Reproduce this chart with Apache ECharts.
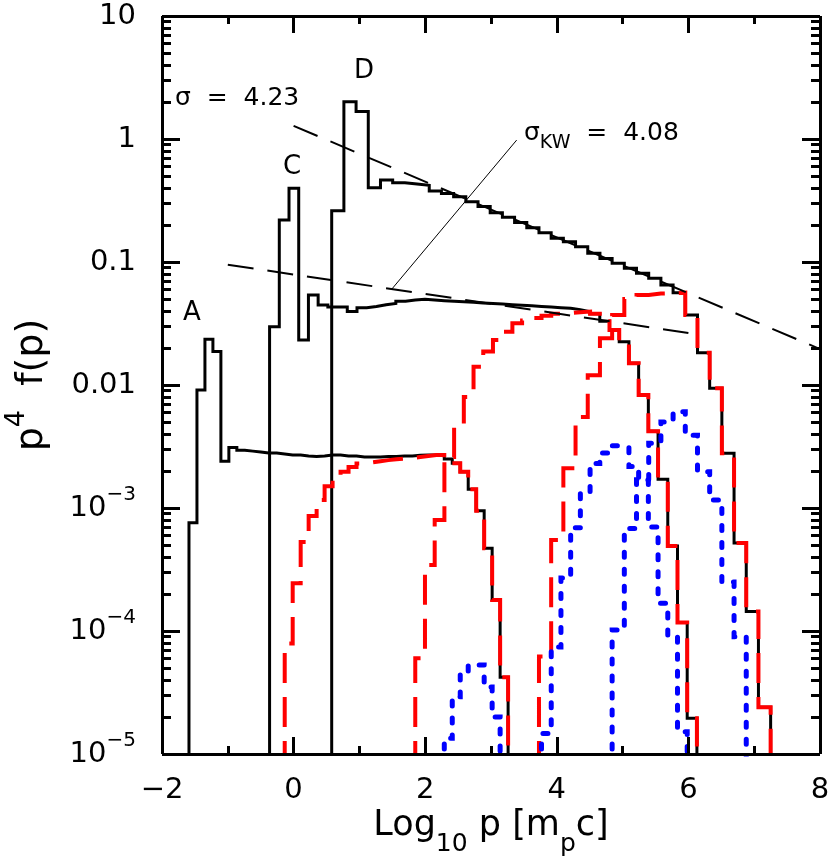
<!DOCTYPE html>
<html><head><meta charset="utf-8">
<script src="https://cdn.jsdelivr.net/npm/echarts@6/dist/echarts.min.js"></script>
<style>html,body{margin:0;padding:0;background:#fff}#c{width:830px;height:866px}</style>
</head><body><div id="c"></div>
<script>
// ---- histogram bin grids (start edge, bin width in log10 p) ----
const gridA = {start: -1.59, width: 0.12125};
const gridC = {start: -0.365, width: 0.1476};
const gridD = {start: 0.579, width: 0.1853};

// ---- black spectra (p^4 f(p) per bin) ----
const blackA = [7.6e-4, 0.0091, 0.0235, 0.0187, 0.0024, 0.0031, 0.00295, 0.0029, 0.00285, 0.0028,
  0.0028, 0.00275, 0.0027, 0.0027, 0.00265, 0.00262, 0.00265, 0.0027, 0.0027, 0.00265,
  0.00265, 0.0026, 0.0026, 0.0026, 0.00262, 0.00262, 0.00265, 0.00265, 0.00268, 0.0027,
  0.0027, 0.0027, 0.0025, 0.00231, 0.00197, 0.00142, 9.5e-4, 4.7e-4, 1.79e-4, 4.2e-5];
const blackC = [0.0298, 0.22, 0.397, 0.0232, 0.054, 0.0447, 0.043, 0.043, 0.0395, 0.0425,
  0.0435, 0.045, 0.046, 0.048, 0.049, 0.0497, 0.049, 0.0485, 0.048, 0.0475,
  0.047, 0.0465, 0.046, 0.0455, 0.045, 0.0445, 0.044, 0.0435, 0.043, 0.0425,
  0.042, 0.041, 0.0395, 0.038, 0.033, 0.028, 0.0225, 0.015, 0.0083, 0.0042,
  0.00171, 4.9e-4, 1.17e-4, 1.95e-5];
const blackD = [0.261, 2.01, 1.67, 0.402, 0.464, 0.441, 0.43, 0.42, 0.378, 0.36,
  0.339, 0.309, 0.282, 0.252, 0.231, 0.209, 0.19, 0.173, 0.156, 0.146,
  0.133, 0.118, 0.107, 0.0977, 0.089, 0.081, 0.0737, 0.065, 0.0563, 0.037,
  0.0183, 0.0094, 0.00279, 5.2e-4, 1.44e-4, 2.4e-5];

// ---- red dashed spectra (first bin index on their grid, values) ----
const red1First = 12;
const red1 = [7.9e-5, 2.45e-4, 5.3e-4, 8.6e-4, 1.16e-3, 1.5e-3, 1.74e-3, 1.97e-3, 2.15e-3, 2.3e-3,
  2.35e-3, 2.4e-3, 2.45e-3, 2.49e-3, 2.52e-3, 2.55e-3, 2.6e-3, 2.65e-3, 2.7e-3, 2.7e-3,
  2.5e-3, 2.31e-3, 1.97e-3, 1.42e-3, 9.5e-4, 4.7e-4, 1.79e-4, 4.2e-5];
const red2First = 15;
const red2 = [6.0e-5, 3.44e-4, 7.98e-4, 2.6e-3, 4.58e-3, 8.0e-3, 0.0141, 0.0187, 0.0232, 0.0271,
  0.0317, 0.0335, 0.035, 0.0365, 0.038, 0.0385, 0.039, 0.0395, 0.038, 0.033,
  0.028, 0.0225, 0.015, 0.0083, 0.0042, 0.00171, 4.9e-4, 1.17e-4, 1.95e-5];
const red3First = 17;
const red3 = [6.2e-5, 5.5e-4, 2.1e-3, 5.5e-3, 0.012, 0.024, 0.037, 0.05, 0.054, 0.0555,
  0.0557, 0.0563, 0.037, 0.0183, 0.0094, 0.00279, 5.2e-4, 1.44e-4, 2.4e-5];

// ---- blue dotted spectra ----
const blue1First = 32;
const blue1 = [1.34e-5, 2.92e-5, 4.4e-5, 5.3e-5, 5.3e-5, 3.5e-5, 2.0e-5];
const blue2First = 28;
const blue2 = [1.47e-5, 7.4e-5, 2.7e-4, 6.9e-4, 1.36e-3, 2.3e-3, 2.8e-3, 3.2e-3, 3.1e-3, 2.17e-3,
  1.69e-3, 7.0e-4, 1.68e-4, 9.0e-5, 1.52e-5];
const blue3First = 23;
const blue3 = [1.02e-4, 6.8e-4, 1.7e-3, 3.36e-3, 5.0e-3, 6.07e-3, 3.9e-3, 1.97e-3, 1.16e-3, 2.5e-4, 9.0e-5];

// ---- power-law fits and pointer ----
const fit423 = [[0.0, 1.28], [8.0, 0.0196]];
const fit408 = [[-1.0, 0.095], [6.0, 0.0265]];
const pointer = [[1.49, 0.060], [3.39, 0.98]];

// ---- axis ranges ----
const xMin = -2, xMax = 8, xStep = 2, xMinorStep = 1;
const yMin = 1e-5, yMax = 10;

const FLOOR = 1e-8;
function hist(grid, vals, first) {
  const e = i => grid.start + (first + i) * grid.width;
  const pts = [[e(0), FLOOR]];
  vals.forEach((v, i) => pts.push([e(i), v]));
  pts.push([e(vals.length), FLOOR]);
  return pts;
}

const FONT = 'DejaVu Sans';
const chart = echarts.init(document.getElementById('c'));

function stepSeries(data, color, width, type, cap) {
  return {type: 'line', data, step: 'end', symbol: 'none', silent: true,
    lineStyle: {color, width, type, cap: cap || 'butt', join: 'miter'}, clip: true};
}
function plainLine(data, width, type) {
  return {type: 'line', data, symbol: 'none', silent: true,
    lineStyle: {color: '#000', width, type}, clip: true};
}

const yLabel = v => {
  const ex = Math.round(Math.log10(v));
  if (ex >= -2) return String(+v.toPrecision(3));
  return '{m|10}{s|\u2212' + (-ex) + '}';
};

chart.setOption({
  animation: false,
  grid: {left: 162, right: 10, top: 16, bottom: 112, containLabel: false, outerBoundsMode: 'none'},
  xAxis: {
    type: 'value', min: xMin, max: xMax, interval: xStep,
    axisLine: {show: false}, axisTick: {show: false}, minorTick: {show: false},
    splitLine: {show: false},
    axisLabel: {show: true, margin: 22, color: '#000', fontFamily: FONT, fontSize: 29,
      formatter: v => String(v).replace('-', '\u2212')},
    name: 'Log{sub|10} p [m{sub|p}c]', nameLocation: 'middle', nameGap: 40, nameMoveOverlap: false,
    nameTextStyle: {color: '#000', fontFamily: FONT, fontSize: 35, lineHeight: 36,
      rich: {sub: {fontFamily: FONT, fontSize: 25, lineHeight: 63, verticalAlign: 'bottom', padding: [38, 0, 0, 0]}}}
  },
  yAxis: {
    type: 'log', logBase: 10, min: yMin, max: yMax,
    axisLine: {show: false}, axisTick: {show: false}, minorTick: {show: false},
    splitLine: {show: false}, minorSplitLine: {show: false},
    axisLabel: {show: true, margin: 26, color: '#000', fontFamily: FONT, fontSize: 29, formatter: yLabel,
      rich: {m: {fontFamily: FONT, fontSize: 29, lineHeight: 29, verticalAlign: 'middle'},
             s: {fontFamily: FONT, fontSize: 20, lineHeight: 46, verticalAlign: 'top', padding: [0, 0, 26, 0]}}},
    name: 'p{sup|4}  f(p)', nameLocation: 'middle', nameGap: 100, nameRotate: 90, nameMoveOverlap: false,
    nameTextStyle: {color: '#000', fontFamily: FONT, fontSize: 38, lineHeight: 38,
      rich: {sup: {fontFamily: FONT, fontSize: 27, lineHeight: 59, verticalAlign: 'top', padding: [0, 0, 32, 0]}}}
  },
  series: [
    stepSeries(hist(gridA, blackA, 0), '#000', 3, 'solid'),
    stepSeries(hist(gridC, blackC, 0), '#000', 3, 'solid'),
    stepSeries(hist(gridD, blackD, 0), '#000', 3, 'solid'),
    stepSeries(hist(gridA, red1, red1First), '#ff0000', 4, [30, 14]),
    stepSeries(hist(gridC, red2, red2First), '#ff0000', 4, [30, 14]),
    stepSeries(hist(gridD, red3, red3First), '#ff0000', 4, [30, 14]),
    stepSeries(hist(gridA, blue1, blue1First), '#0000ff', 5, [5, 12], 'round'),
    stepSeries(hist(gridC, blue2, blue2First), '#0000ff', 5, [5, 12], 'round'),
    stepSeries(hist(gridD, blue3, blue3First), '#0000ff', 5, [5, 12], 'round'),
    plainLine(fit423, 2, [26, 14]),
    plainLine(fit408, 2, [26, 14]),
    plainLine(pointer, 1, 'solid')
  ],
  graphic: [
    {type: 'text', x: 175, y: 98, style: {text: 'σ  =  4.23', fontFamily: FONT, fontSize: 25, fill: '#000', verticalAlign: 'middle', align: 'left'}},
    {type: 'text', x: 364, y: 71, style: {text: 'D', fontFamily: FONT, fontSize: 26, fill: '#000', verticalAlign: 'middle', align: 'center'}},
    {type: 'text', x: 292, y: 167, style: {text: 'C', fontFamily: FONT, fontSize: 26, fill: '#000', verticalAlign: 'middle', align: 'center'}},
    {type: 'text', x: 192, y: 313, style: {text: 'A', fontFamily: FONT, fontSize: 26, fill: '#000', verticalAlign: 'middle', align: 'center'}},
    {type: 'text', x: 524, y: 133, style: {text: 'σ{s|KW}  =  4.08', fontFamily: FONT, fontSize: 25, lineHeight: 25, fill: '#000', verticalAlign: 'middle', align: 'left',
      rich: {s: {fontFamily: FONT, fontSize: 19, lineHeight: 39, verticalAlign: 'bottom', padding: [20, 0, 0, 0], fill: '#000'}}}}
  ]
});

// ---- frame and inward ticks, placed through the axes' own scales ----
const toPx = p => chart.convertToPixel({gridIndex: 0}, p);
const toData = p => chart.convertFromPixel({gridIndex: 0}, p);
const lines = [];
function addTick(from, dx, dy) {
  const p = toPx(from);
  lines.push([{coord: from}, {coord: toData([p[0] + dx, p[1] + dy])}]);
}
for (let v = xMin; v <= xMax + 1e-9; v += xMinorStep) {
  const L = Math.abs((v - xMin) % xStep) < 1e-9 ? 17 : 8;
  addTick([v, yMin], 0, -L);
  addTick([v, yMax], 0, L);
}
for (let d = Math.round(Math.log10(yMin)); d <= Math.round(Math.log10(yMax)); d++) {
  for (let k = 1; k <= 9; k++) {
    const v = +(k * Math.pow(10, d)).toPrecision(3);
    if (v > yMax * 1.0001) break;
    const L = k === 1 ? 18 : 9;
    addTick([xMin, v], L, 0);
    addTick([xMax, v], -L, 0);
  }
}
lines.push([{coord: [xMin, yMin]}, {coord: [xMax, yMin]}]);
lines.push([{coord: [xMin, yMax]}, {coord: [xMax, yMax]}]);
lines.push([{coord: [xMin, yMin]}, {coord: [xMin, yMax]}]);
lines.push([{coord: [xMax, yMin]}, {coord: [xMax, yMax]}]);

const opt = chart.getOption();
const series = opt.series;
series.push({
  type: 'line', data: [[xMin, yMax]], symbol: 'none', silent: true, clip: false, z: 20,
  lineStyle: {opacity: 0},
  markLine: {silent: true, symbol: ['none', 'none'], animation: false, label: {show: false},
    lineStyle: {color: '#000', width: 3, type: 'solid'}, emphasis: {disabled: true}, data: lines}
});
chart.setOption({series: series});
</script></body></html>
